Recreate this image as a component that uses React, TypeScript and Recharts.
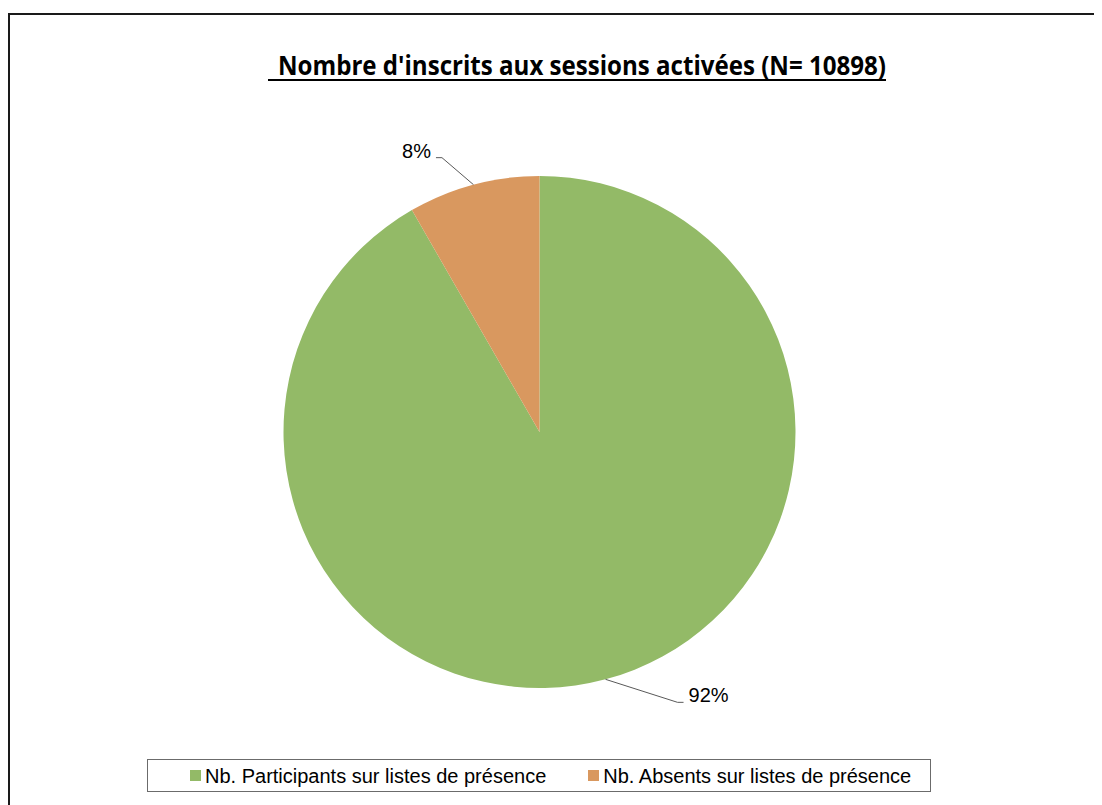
import React from 'react';
import { PieChart, Pie, Cell, Legend } from 'recharts';

const TITLE = "Nombre d'inscrits aux sessions activées (N= 10898)";
const CATEGORIES = ['Nb. Participants sur listes de présence', 'Nb. Absents sur listes de présence'];
const VALUES = [9993, 905];
const COLORS = ['#93BA67', '#D9985F'];

// leader-line elbow offsets relative to slice edge (layout, not data)
const LABEL_LAYOUT = [
  { dx: 72, dy: 23, dir: 1 },
  { dx: -31.5, dy: -27, dir: -1 },
];

const data = CATEGORIES.map((name, i) => ({ name, value: VALUES[i] }));

const RAD = Math.PI / 180;

const renderLabel = (props: any) => {
  const { cx, cy, midAngle, outerRadius, percent, index } = props;
  const ex = cx + outerRadius * Math.cos(-midAngle * RAD);
  const ey = cy + outerRadius * Math.sin(-midAngle * RAD);
  const lay = LABEL_LAYOUT[index];
  const bx = ex + lay.dx;
  const by = ey + lay.dy;
  const hx = bx + lay.dir * 6;
  const tx = hx + lay.dir * 5;
  return (
    <g key={`lbl-${index}`}>
      <polyline
        points={`${ex},${ey} ${bx},${by} ${hx},${by}`}
        fill="none"
        stroke="#595959"
        strokeWidth={1}
      />
      <text
        x={tx}
        y={by}
        textAnchor={lay.dir > 0 ? 'start' : 'end'}
        fontFamily="'Liberation Sans', Arial, sans-serif"
        fontSize={20}
        fill="#000"
      >
        {`${Math.round(percent * 100)}%`}
      </text>
    </g>
  );
};

const renderLegend = (props: any) => {
  const payload = [...(props.payload || [])].sort(
    (a: any, b: any) => CATEGORIES.indexOf(a.value) - CATEGORIES.indexOf(b.value)
  );
  return (
    <div
      style={{
        boxSizing: 'border-box',
        width: 784,
        height: 33,
        border: '1px solid #6b6b6b',
        display: 'flex',
        alignItems: 'center',
        paddingLeft: 42,
        fontFamily: "'Liberation Sans', Arial, sans-serif",
        fontSize: 20,
        color: '#000',
        background: '#fff',
      }}
    >
      {payload.map((entry: any, i: number) => (
        <div
          key={i}
          style={{ display: 'flex', alignItems: 'center', marginRight: i === 0 ? 42 : 0 }}
        >
          <span
            style={{
              display: 'inline-block',
              width: 11,
              height: 11,
              background: entry.color,
              marginRight: 4,
            }}
          />
          <span style={{ lineHeight: '20px' }}>{entry.value}</span>
        </div>
      ))}
    </div>
  );
};

export default function App() {
  return (
    <div
      style={{
        marginTop: 5,
        position: 'relative',
        width: 1090,
        height: 800,
        borderTop: '2px solid #1a1a1a',
        borderLeft: '2px solid #1a1a1a',
        borderRight: '2px solid #1a1a1a',
        background: '#fff',
      }}
    >
      <PieChart width={1090} height={790} margin={{ top: 0, right: 0, bottom: 0, left: 0 }}>
        <Pie
          data={data}
          dataKey="value"
          nameKey="name"
          cx={529.5}
          cy={417}
          outerRadius={256}
          startAngle={90}
          endAngle={-270}
          stroke="none"
          isAnimationActive={false}
          label={renderLabel}
          labelLine={false}
        >
          {data.map((d, i) => (
            <Cell key={d.name} fill={COLORS[i]} />
          ))}
        </Pie>
        <Legend
          content={renderLegend}
          wrapperStyle={{ position: 'absolute', left: 137, top: 744, width: 784, height: 33, bottom: 'auto' }}
        />
      </PieChart>
      <svg
        width={1090}
        height={100}
        style={{ position: 'absolute', left: 0, top: 0, pointerEvents: 'none' }}
      >
        <text
          x={268}
          y={60}
          textLength={608}
          lengthAdjust="spacingAndGlyphs"
          fontFamily="'Open Sans', sans-serif"
          fontWeight="bold"
          fontSize={26}
          fill="#000"
        >
          {TITLE}
        </text>
        <line x1={258} x2={876} y1={65} y2={65} stroke="#000" strokeWidth={2} />
      </svg>
    </div>
  );
}
